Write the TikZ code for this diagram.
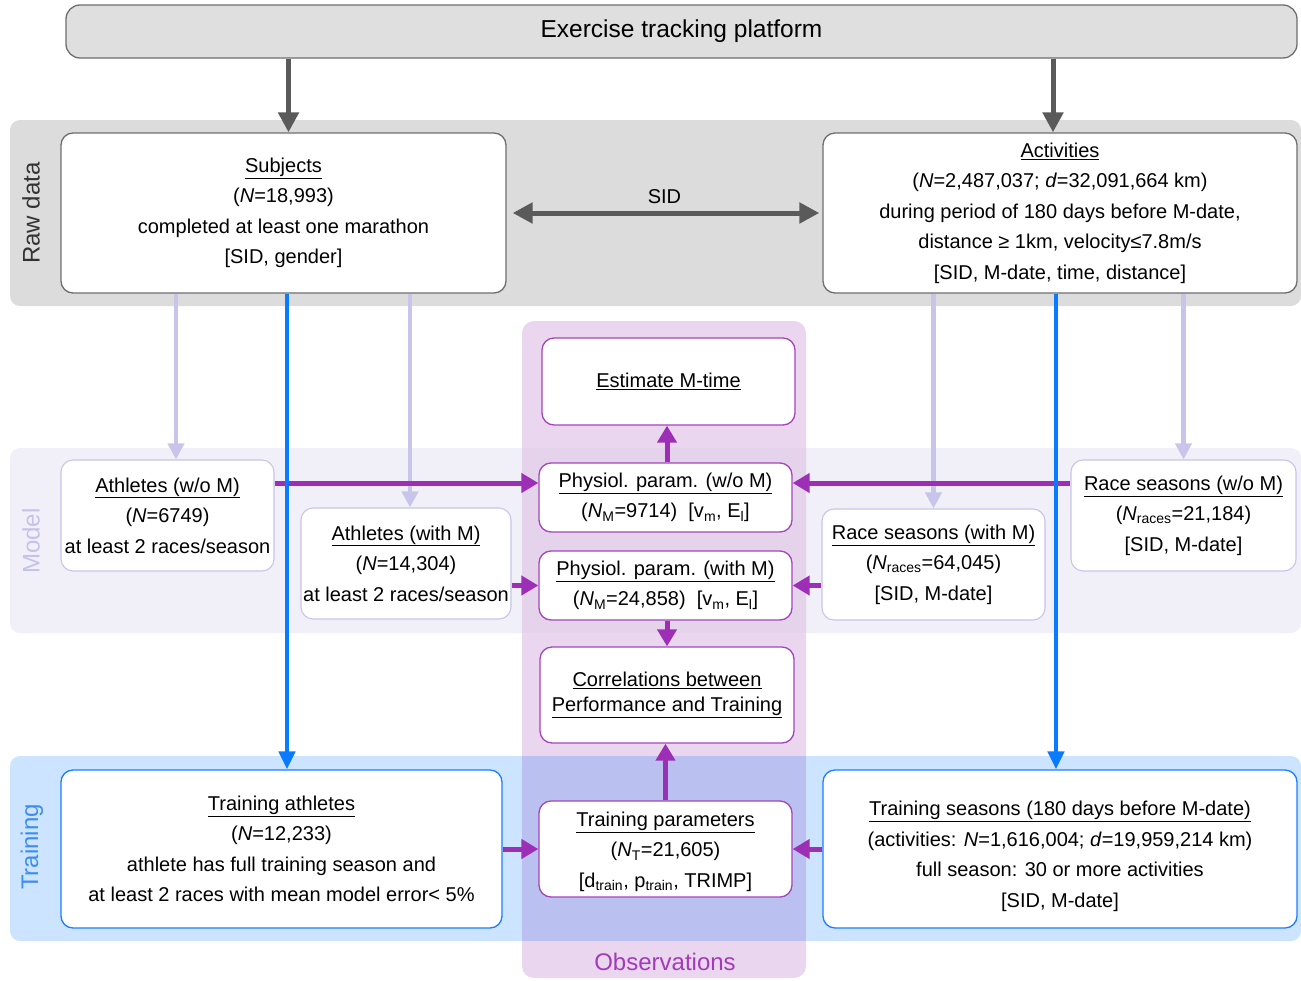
\documentclass[tikz,border=0pt]{standalone}
\usepackage{fontspec}
\setmainfont{Liberation Sans}
\usetikzlibrary{arrows.meta}
\usetikzlibrary{calc}

\definecolor{platfill}{HTML}{DFDFDF}
\definecolor{platline}{HTML}{6E6E6E}
\definecolor{rawfill}{HTML}{DCDCDC}
\definecolor{darkarr}{HTML}{5A5A5A}
\definecolor{modelfill}{HTML}{F1F0F8}
\definecolor{modelline}{HTML}{C9C4EA}
\definecolor{modeltext}{HTML}{C6C1E8}
\definecolor{obsfill}{HTML}{EBD6EF}
\definecolor{obsmodel}{HTML}{E5D3EC}
\definecolor{obstrain}{HTML}{BAC0EF}
\definecolor{obsline}{HTML}{A445B8}
\definecolor{obsarr}{HTML}{9C2FB5}
\definecolor{obstext}{HTML}{A23BB8}
\definecolor{trainfill}{HTML}{CCE4FF}
\definecolor{trainline}{HTML}{1A7EFF}
\definecolor{trainarr}{HTML}{0A7BFF}
\definecolor{traintext}{HTML}{3D8DF0}

\tikzset{
  box/.style={draw, fill=white, rounded corners=12pt, align=center,
    inner sep=0pt, line width=1.3pt, font=\fontsize{20}{30.5}\selectfont},
  rawbox/.style={box, draw=platline},
  modelbox/.style={box, draw=modelline, line width=1.1pt},
  obsbox/.style={box, draw=obsline},
  trainbox/.style={box, draw=trainline},
  bandlabel/.style={font=\fontsize{24}{28}\selectfont, inner sep=0pt},
  grayarrow/.style={draw=darkarr, line width=5pt, -{Triangle[length=20pt,width=20pt]}},
  liarrow/.style={draw=modelline, line width=4.5pt, -{Triangle[length=16pt,width=16pt]}},
  purarrow/.style={draw=obsarr, line width=5pt, -{Triangle[length=17pt,width=19pt]}},
  bluarrow/.style={draw=trainarr, line width=4.5pt, -{Triangle[length=18pt,width=16pt]}}
}

\begin{document}
\begin{tikzpicture}[x=1pt, y=-1pt]
\useasboundingbox (0,0) rectangle (1301,980);

% bands
\fill[rawfill, rounded corners=10pt] (10,120) rectangle (1301,306);
\fill[modelfill, rounded corners=10pt] (10,448) rectangle (1301,633);
\fill[trainfill, rounded corners=10pt] (10,756) rectangle (1301,941);
\fill[obsfill, rounded corners=12pt] (522,321) rectangle (806,978);
\fill[obsmodel] (522,448) rectangle (806,633);
\fill[obstrain] (522,756) rectangle (806,941);

\node[bandlabel, rotate=90, text=black!80] (rawlbl) at (31,213) {Raw data};
\node[bandlabel, rotate=90, text=modeltext] (modlbl) at (31,541) {Model};
\node[bandlabel, rotate=90, text=traintext] (trnlbl) at (32,847) {Training};
\node[bandlabel, text=obstext] (obslbl) at (665,962) {Observations};

% raw data
\node[box, draw=platline, fill=platfill, rounded corners=14pt, minimum width=1231pt,
  minimum height=53pt, font=\fontsize{24.5}{28}\selectfont] (plat) at (681.5,31.5)
  {Exercise tracking platform};
\node[rawbox, minimum width=445pt, minimum height=160pt] (subj) at (283.5,213)
  {\underline{Subjects}\\(\textit{N}=18,993)\\completed at least one marathon\\{}[SID, gender]};
\node[rawbox, minimum width=474pt, minimum height=160pt] (act) at (1060,213)
  {\underline{Activities}\\(\textit{N}=2,487,037; \textit{d}=32,091,664 km)\\during period of 180 days before M-date,\\distance ≥ 1km, velocity≤7.8m/s\\{}[SID, M-date, time, distance]};

% model
\node[modelbox, minimum width=213pt, minimum height=111pt] (athwo) at (167.5,515.5)
  {\underline{Athletes (w/o M)}\\(\textit{N}=6749)\\at least 2 races/season};
\node[modelbox, minimum width=210pt, minimum height=111pt] (athw) at (406,563.5)
  {\underline{Athletes (with M)}\\(\textit{N}=14,304)\\at least 2 races/season};
\node[modelbox, minimum width=223pt, minimum height=111pt] (racew) at (933.5,564.5)
  {\underline{Race seasons (with M)}\\(\textit{N}\textsubscript{races}=64,045)\\{}[SID, M-date]};
\node[modelbox, minimum width=225pt, minimum height=111pt] (racewo) at (1183.5,515.5)
  {\underline{Race seasons (w/o M)}\\(\textit{N}\textsubscript{races}=21,184)\\{}[SID, M-date]};

% observations
\node[obsbox, minimum width=253pt, minimum height=87pt] (est) at (668.5,381.5)
  {\underline{Estimate M-time}};
\node[obsbox, minimum width=253pt, minimum height=69pt] (physwo) at (665.5,497.5)
  {\underline{Physiol. param. (w/o M)}\\(\textit{N}\textsubscript{M}=9714)~~[v\textsubscript{m}, E\textsubscript{l}]};
\node[obsbox, minimum width=253pt, minimum height=69pt] (physw) at (665.5,585.5)
  {\underline{Physiol. param. (with M)}\\(\textit{N}\textsubscript{M}=24,858)~~[v\textsubscript{m}, E\textsubscript{l}]};
\node[obsbox, minimum width=254pt, minimum height=96pt, font=\fontsize{20}{24.5}\selectfont] (corr) at (667,695)
  {\underline{Correlations between}\\\underline{Performance and Training}};
\node[obsbox, minimum width=253pt, minimum height=96pt] (trp) at (665.5,849)
  {\rule{0pt}{20pt}\underline{Training parameters}\\(\textit{N}\textsubscript{T}=21,605)\\{}[d\textsubscript{train}, p\textsubscript{train}, TRIMP]};

% training
\node[trainbox, minimum width=441pt, minimum height=158pt] (tath) at (281.5,849)
  {\underline{Training athletes}\\(\textit{N}=12,233)\\athlete has full training season and\\at least 2 races with mean model error< 5\%};
\node[trainbox, minimum width=474pt, minimum height=158pt] (tsea) at (1060,849)
  {\rule{0pt}{29pt}\underline{Training seasons (180 days before M-date)}\\(activities: \textit{N}=1,616,004; \textit{d}=19,959,214 km)\\full season: 30 or more activities\\{}[SID, M-date]};

% platform to raw data
\draw[grayarrow] ([xshift=5pt]subj.north |- plat.south) -- ([xshift=5pt]subj.north);
\draw[grayarrow] ([xshift=-7pt]act.north |- plat.south) -- ([xshift=-7pt]act.north);
\draw[grayarrow, {Triangle[length=20pt,width=20pt]}-{Triangle[length=20pt,width=20pt]},
  shorten <=6pt, shorten >=3pt] (subj) -- (act) node[midway, above=3pt, font=\fontsize{20}{24}\selectfont] (sid) {SID};

% raw data to model
\draw[liarrow] ([xshift=8.5pt]athwo.north |- subj.south) -- ([xshift=8.5pt]athwo.north);
\draw[liarrow] ([xshift=4pt]athw.north |- subj.south) -- ([xshift=4pt]athw.north);
\draw[liarrow] (racew.north |- act.south) -- (racew.north);
\draw[liarrow] (racewo.north |- act.south) -- (racewo.north);

% model to observations
\draw[purarrow] ([yshift=14.5pt]physwo.west -| athwo.east) -- ([yshift=14.5pt]physwo.west);
\draw[purarrow] ([yshift=14.5pt]physwo.east -| racewo.west) -- ([yshift=14.5pt]physwo.east);
\draw[purarrow] (physw.west -| athw.east) -- (physw.west);
\draw[purarrow] (physw.east -| racew.west) -- (physw.east);
\draw[purarrow] ([xshift=1.5pt]physwo.north) -- ([xshift=1.5pt]physwo.north |- est.south);
\draw[purarrow] ([xshift=1.5pt]physw.south) -- ([xshift=1.5pt]physw.south |- corr.north);
\draw[purarrow] (trp.north) -- (trp.north |- corr.south);
\draw[purarrow] (tath.east) -- (trp.west);
\draw[purarrow] (tsea.west) -- (trp.east);

% raw data to training
\draw[bluarrow] ([xshift=5.5pt]tath.north |- subj.south) -- ([xshift=5.5pt]tath.north);
\draw[bluarrow] ([xshift=-4pt]tsea.north |- act.south) -- ([xshift=-4pt]tsea.north);
\end{tikzpicture}
\end{document}
